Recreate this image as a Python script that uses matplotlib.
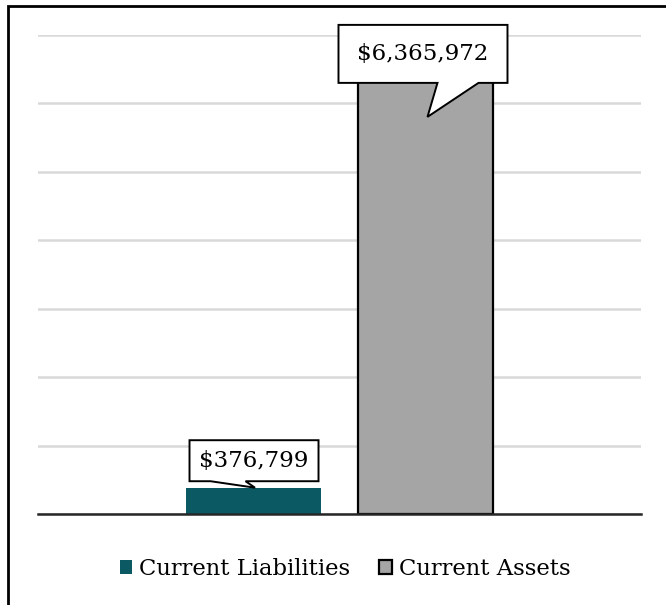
import matplotlib
matplotlib.use("Agg")
import matplotlib.pyplot as plt
from matplotlib.patches import Rectangle, Polygon
from matplotlib.transforms import ScaledTranslation

series = ["Current Liabilities", "Current Assets"]
values = [376799, 6365972]
labels = ["$376,799", "$6,365,972"]
colors = ["#0B5963", "#A5A5A5"]
edges = ["none", "#000000"]

plt.rcParams["font.family"] = ["DejaVu Serif"]

W, H = 666, 605
fig = plt.figure(figsize=(W / 100, H / 100), dpi=100)
ax = fig.add_axes([38 / W, (H - 514) / H, (641 - 38) / W, (514 - 35) / H])

offsets = [-0.1426, 0.1426]
width = 0.2239
bars = []
for off, v, c, e, name in zip(offsets, values, colors, edges, series):
    b = ax.bar(off, v, width=width, color=c, edgecolor=e, linewidth=1.6 if e != "none" else 0,
               label=name, zorder=3)
    bars.append(b)

ax.set_xlim(-0.5, 0.5)
ax.set_ylim(0, 7000000)
ax.set_yticks(range(0, 7000001, 1000000))
ax.yaxis.grid(True, color="#D9D9D9", linewidth=1.8, zorder=0)
ax.set_axisbelow(True)
ax.tick_params(left=False, bottom=False, labelleft=False, labelbottom=False)
for s in ["left", "right", "top"]:
    ax.spines[s].set_visible(False)
ax.spines["bottom"].set_color("#262626")
ax.spines["bottom"].set_linewidth(1.8)
ax.spines["bottom"].set_zorder(4)

# callouts: (box left, right, top, bottom, tail base1, base2, tip dx, tip dy) in px relative to bar top
callouts = [
    dict(box=(-64, 65, 48, 7), tail=(-43, -8, 1.5, 0.5), text=(0.5, 27.5)),
    dict(box=(-87, 82, 53.5, -4.5), tail=(12, 53, 2, -38.5), text=(-3, 24.5)),
]
for off, v, lab, co in zip(offsets, values, labels, callouts):
    tr = fig.dpi_scale_trans + ScaledTranslation(off, v, ax.transData)
    l, r, t, bt = co["box"]
    b1, b2, tx, ty = co["tail"]
    pts = [(l, t), (r, t), (r, bt), (b2, bt), (tx, ty), (b1, bt), (l, bt)]
    pts = [(x / 100, y / 100) for x, y in pts]
    poly = Polygon(pts, closed=True, facecolor="white", edgecolor="black", linewidth=1.4,
                   transform=tr, zorder=5, clip_on=False)
    ax.add_patch(poly)
    ax.text(co["text"][0] / 100, co["text"][1] / 100, lab, transform=tr, ha="center", va="center",
            fontsize=16.5, color="#000000", zorder=6)

fig.legend(handles=[b[0] for b in bars], labels=series, loc="center",
           bbox_to_anchor=(345 / W, 1 - 569 / H), ncol=2, frameon=False,
           fontsize=16.3, handlelength=0.55, handleheight=0.55, handletextpad=0.3,
           columnspacing=1.3)

border = Rectangle((8 / W, -0.1), 1.2, (H - 6) / H + 0.1, transform=fig.transFigure,
                   fill=False, edgecolor="black", linewidth=2, clip_on=False)
fig.patches.append(border)

fig.savefig("out.png", dpi=100)
